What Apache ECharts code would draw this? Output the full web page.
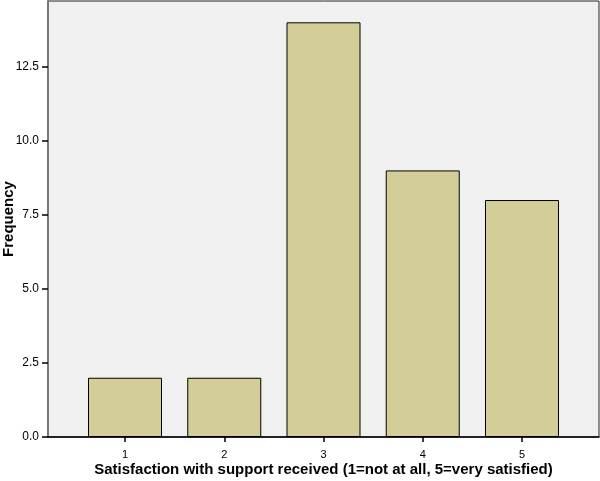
<!DOCTYPE html>
<html>
<head>
<meta charset="utf-8">
<script src="https://cdn.jsdelivr.net/npm/echarts@6/dist/echarts.min.js"></script>
<style>
html,body{margin:0;padding:0;background:#fff;}
#chart{width:600px;height:481px;}
</style>
</head>
<body>
<div id="chart"></div>
<script>
var categories = [1, 2, 3, 4, 5];
var frequency = [2, 2, 14, 9, 8];
var yTicks = [0, 2.5, 5, 7.5, 10, 12.5];

var myChart = echarts.init(document.getElementById('chart'));
var option = {
	animation: false,
	grid: {
		left: 48,
		right: 1,
		top: 1,
		bottom: 44,
		outerBoundsMode: 'none',
		containLabel: false,
		show: true,
		backgroundColor: '#f0f0f0',
		borderColor: '#222',
		borderWidth: 1
	},
	xAxis: {
		type: 'value',
		min: 0.224,
		max: 5.776,
		name: 'Satisfaction with support received (1=not at all, 5=very satisfied)',
		nameLocation: 'middle',
		nameGap: 25,
		nameMoveOverlap: false,
		nameTextStyle: {
			fontFamily: 'Liberation Sans',
			fontWeight: 'bold',
			fontSize: 15,
			color: '#000'
		},
		axisLine: { show: true, onZero: false, lineStyle: { color: '#000', width: 1.5 } },
		axisTick: { show: true, customValues: categories, length: 5, lineStyle: { color: '#000', width: 1.5 } },
		axisLabel: {
			customValues: categories,
			fontFamily: 'Liberation Sans',
			fontSize: 11,
			color: '#000',
			margin: 12
		},
		splitLine: { show: false }
	},
	yAxis: {
		type: 'value',
		min: 0,
		max: 14.72,
		name: 'Frequency',
		nameLocation: 'middle',
		nameGap: 32,
		nameMoveOverlap: false,
		nameTextStyle: {
			fontFamily: 'Liberation Sans',
			fontWeight: 'bold',
			fontSize: 15,
			color: '#000'
		},
		axisLine: { show: true, lineStyle: { color: '#777', width: 2 } },
		axisTick: { show: true, customValues: yTicks, length: 6, lineStyle: { color: '#000', width: 1.5 } },
		axisLabel: {
			customValues: yTicks,
			formatter: function (v) { return v.toFixed(1); },
			fontFamily: 'Liberation Sans',
			fontSize: 12,
			color: '#000',
			margin: 9
		},
		splitLine: { show: false }
	},
	series: [{
		type: 'bar',
		barWidth: 74,
		data: categories.map(function (c, i) { return [c, frequency[i]]; }),
		itemStyle: {
			color: '#d3ce98',
			borderColor: '#000',
			borderWidth: 1
		}
	}]
};
myChart.setOption(option);
</script>
</body>
</html>
